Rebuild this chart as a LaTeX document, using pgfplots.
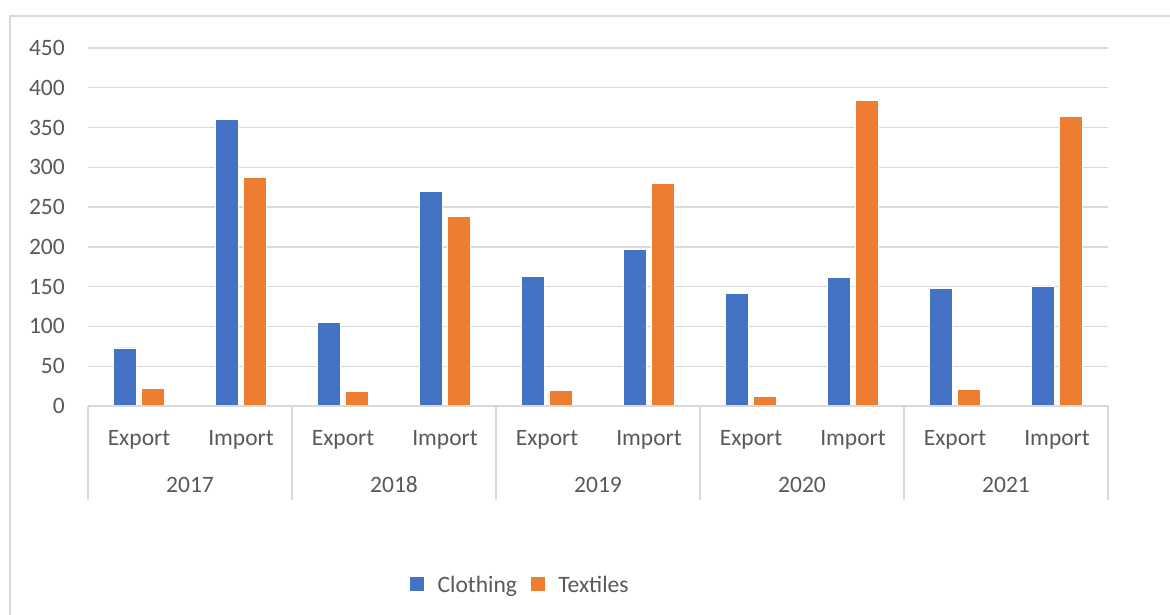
\documentclass[border=0pt]{standalone}
\usepackage{fontspec}
\setmainfont{Carlito}
\usepackage{pgfplots}
\pgfplotsset{compat=1.18}
\definecolor{cloth}{HTML}{4472C4}
\definecolor{texc}{HTML}{ED7D31}
\definecolor{gridc}{HTML}{D9D9D9}
\definecolor{txt}{HTML}{595959}
\newcommand{\chfont}{\fontsize{23.5bp}{28bp}\selectfont}
\begin{document}
\begin{tikzpicture}[x=1bp,y=1bp]
\useasboundingbox (0,0) rectangle (1170,615);
\draw[gridc, line width=1.5bp] (10,0) -- (10,599) -- (1170,599);
\begin{axis}[
  at={(88bp,209bp)}, anchor=south west,
  scale only axis, width=1020bp, height=358bp,
  xmin=-0.5, xmax=9.5, ymin=0, ymax=450,
  ytick={0,50,...,450},
  xtick={0,...,9},
  xticklabels={Export,Import,Export,Import,Export,Import,Export,Import,Export,Import},
  ymajorgrids, grid style={gridc, line width=1.3bp},
  axis line style={draw=none},
  tick style={draw=none},
  major tick length=0pt,
  font=\chfont,
  tick label style={text=txt, font=\chfont},
  /pgf/number format/assume math mode=true,
  yticklabel style={anchor=east, inner sep=0pt, xshift=-23bp},
  xticklabel style={anchor=base, inner sep=0pt, yshift=-40bp},
  ybar, bar width=23bp,
  legend style={at={(0.424,-0.5)}, anchor=center, draw=none, legend columns=2,
    text=txt, font=\chfont, inner sep=0pt,
    /tikz/every even column/.append style={column sep=12bp}},
  legend cell align=left,
  legend image code/.code={\fill[#1,draw=none] (0bp,-6bp) rectangle (14bp,8bp); \path (25bp,0bp);},
]
\addplot[fill=cloth, draw=white, line width=0.6bp, bar shift=-14bp] coordinates {(0,73)(1,360)(2,105)(3,270)(4,163)(5,197)(6,142)(7,162)(8,148)(9,151)};
\addplot[fill=texc, draw=white, line width=0.6bp, bar shift=14bp] coordinates {(0,22)(1,287)(2,18)(3,238)(4,20)(5,280)(6,12)(7,384)(8,21)(9,364)};
\legend{Clothing, Textiles}
\end{axis}
\draw[gridc, line width=1.5bp] (88,209) -- (1108,209);
\foreach \k in {0,...,5} {\draw[gridc, line width=1.5bp] (88+204*\k,209) -- (88+204*\k,115);}
\foreach \k/\yr in {0/2017,1/2018,2/2019,3/2020,4/2021} {\node[anchor=base, text=txt, font=\chfont, inner sep=0pt] at (190+204*\k,122) {\yr};}
\end{tikzpicture}
\end{document}
